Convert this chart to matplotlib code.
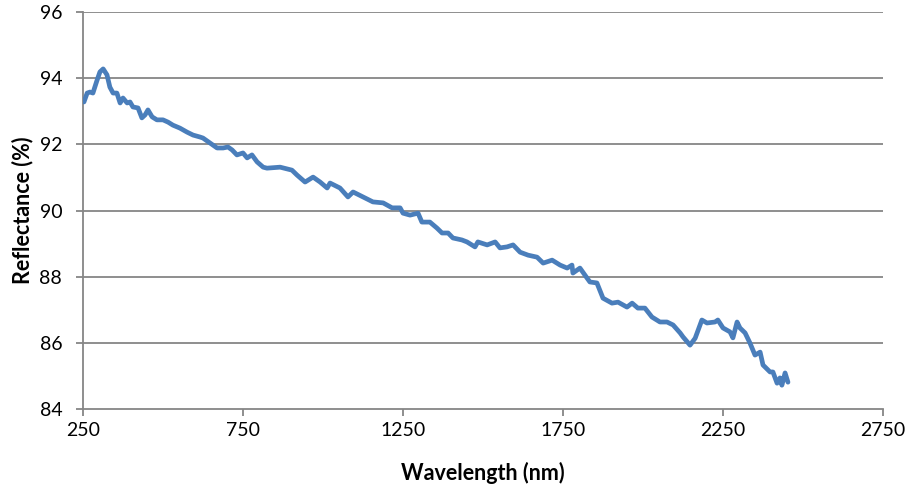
import numpy as np
import matplotlib.pyplot as plt
import matplotlib

matplotlib.rcParams.update({'font.family': ['Lato', 'DejaVu Sans']})

# spectrum
wavelength = [253, 263, 272, 281, 294, 303, 313, 325, 334, 344, 356, 366, 375, 388, 397,
              406, 422, 434, 444, 453, 466, 481, 500, 516, 531, 553, 575, 594, 616, 625,
              647, 669, 688, 703, 716, 731, 750, 763, 778, 794, 813, 825, 866, 903, 919,
              944, 969, 991, 1013, 1022, 1053, 1078, 1094, 1125, 1156, 1188, 1216, 1241,
              1250, 1272, 1297, 1309, 1334, 1356, 1372, 1391, 1406, 1434, 1450, 1475, 1484,
              1513, 1538, 1553, 1575, 1594, 1616, 1641, 1669, 1688, 1716, 1741, 1763, 1778,
              1781, 1803, 1825, 1834, 1856, 1875, 1903, 1922, 1950, 1966, 1984, 2006, 2028,
              2053, 2075, 2094, 2116, 2125, 2147, 2163, 2184, 2200, 2225, 2234, 2250, 2272,
              2281, 2294, 2303, 2319, 2334, 2350, 2366, 2375, 2397, 2406, 2419, 2428, 2434,
              2444, 2453]
reflectance = [93.28, 93.55, 93.58, 93.55, 93.94, 94.19, 94.28, 94.10, 93.73, 93.55, 93.55,
               93.25, 93.40, 93.25, 93.28, 93.13, 93.10, 92.80, 92.89, 93.04, 92.83, 92.74,
               92.74, 92.67, 92.58, 92.49, 92.37, 92.28, 92.22, 92.19, 92.04, 91.89, 91.89,
               91.92, 91.83, 91.68, 91.74, 91.59, 91.68, 91.47, 91.31, 91.28, 91.31, 91.22,
               91.07, 90.86, 91.01, 90.86, 90.68, 90.83, 90.68, 90.41, 90.56, 90.41, 90.26,
               90.23, 90.08, 90.08, 89.92, 89.86, 89.92, 89.65, 89.65, 89.47, 89.32, 89.32,
               89.17, 89.11, 89.05, 88.90, 89.05, 88.96, 89.05, 88.87, 88.90, 88.96, 88.74,
               88.65, 88.59, 88.41, 88.50, 88.35, 88.26, 88.35, 88.11, 88.26, 87.96, 87.84,
               87.81, 87.35, 87.20, 87.23, 87.08, 87.20, 87.05, 87.05, 86.78, 86.63, 86.63,
               86.54, 86.30, 86.18, 85.93, 86.14, 86.69, 86.60, 86.63, 86.69, 86.45, 86.33,
               86.15, 86.63, 86.45, 86.30, 86.00, 85.63, 85.72, 85.33, 85.12, 85.12, 84.78,
               84.94, 84.72, 85.09, 84.81]

xticks = [250, 750, 1250, 1750, 2250, 2750]
yticks = [84, 86, 88, 90, 92, 94, 96]

fig = plt.figure(figsize=(9.09, 4.9), dpi=100)
ax = fig.add_axes([0.0913, 0.1653, 0.8801, 0.8102])

gcol = '#868686'
for yv in yticks[1:]:
    ax.axhline(yv, color=gcol, lw=1.3, zorder=1)

ax.plot(wavelength, reflectance, color='#4a7ebb', lw=3.4, solid_joinstyle='round',
        solid_capstyle='round', zorder=3)

ax.set_xlim(250, 2750)
ax.set_ylim(84, 96)
ax.set_xticks(xticks)
ax.set_yticks(yticks)

for s in ['top', 'right']:
    ax.spines[s].set_visible(False)
for s in ['left', 'bottom']:
    ax.spines[s].set_color(gcol)
    ax.spines[s].set_linewidth(1.3)

ax.tick_params(axis='both', direction='out', length=5, width=1.3, color=gcol,
               labelsize=14)
ax.tick_params(axis='x', pad=4)
ax.tick_params(axis='y', pad=10)

ax.set_xlabel('Wavelength (nm)', fontsize=15.5, fontweight='bold', labelpad=17)
ax.set_ylabel('Reflectance (%)', fontsize=15.5, fontweight='bold', labelpad=4)

fig.savefig('out.png', dpi=100)
